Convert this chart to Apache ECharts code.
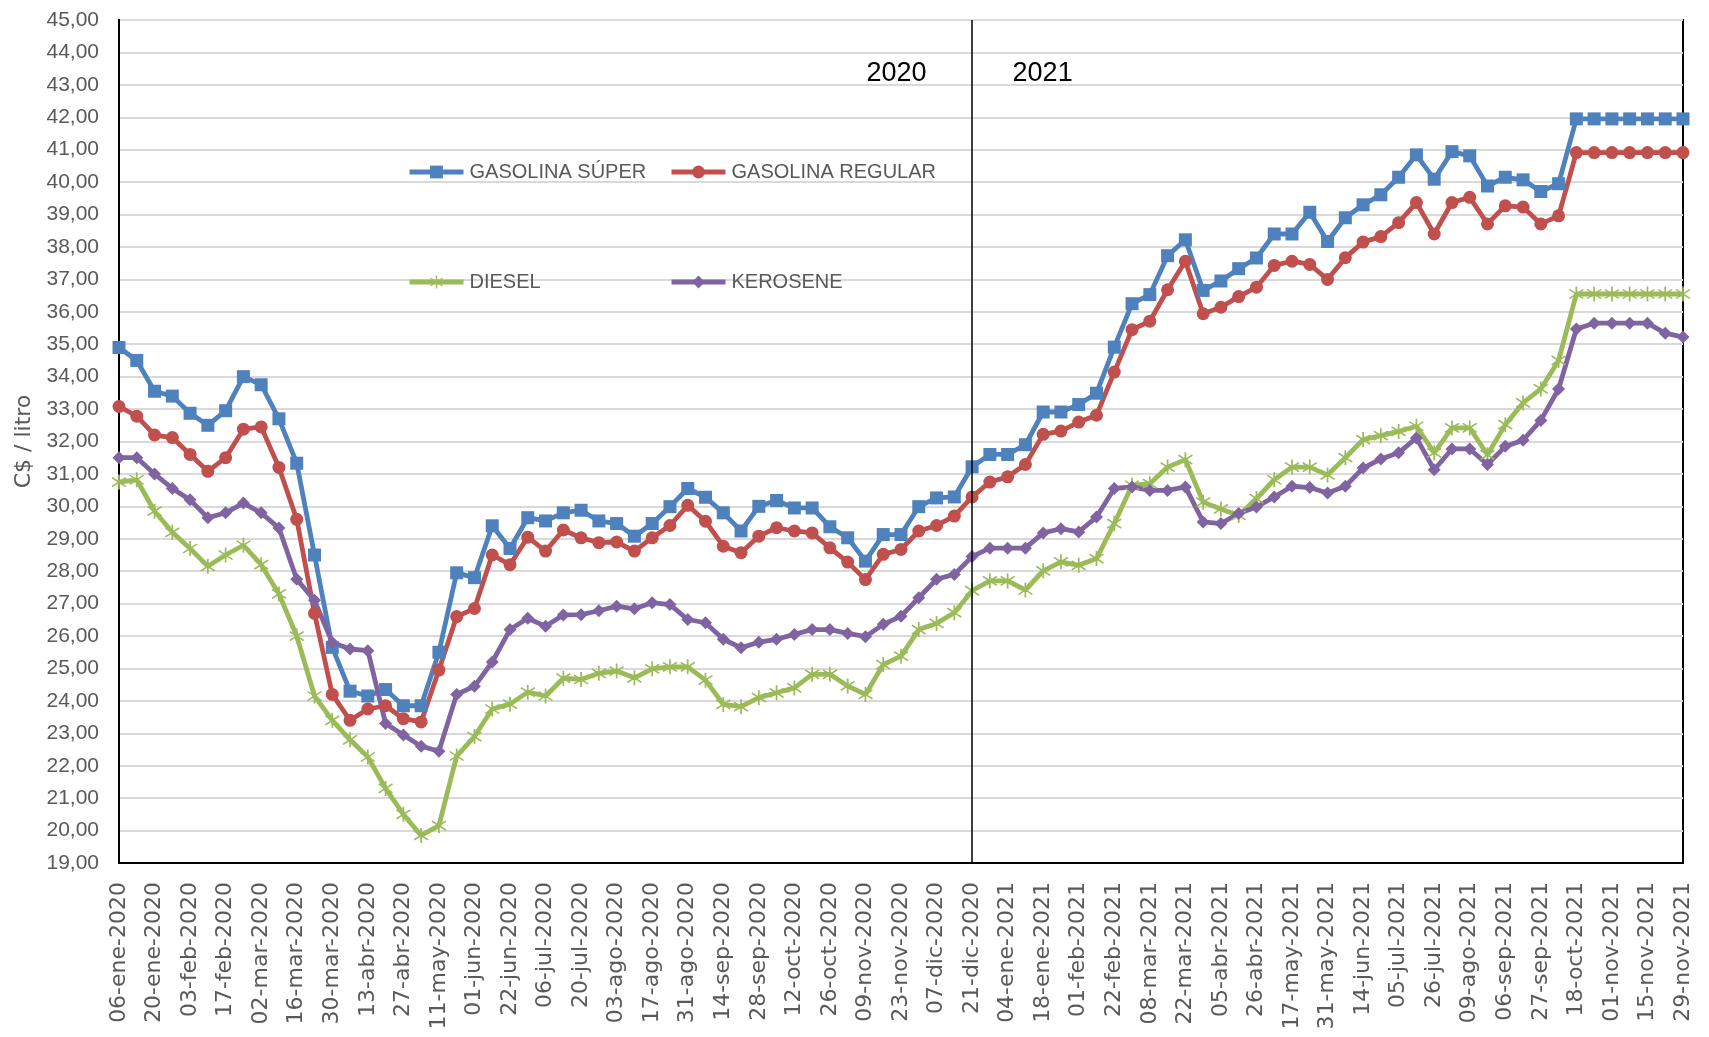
<!DOCTYPE html>
<html>
<head>
<meta charset="utf-8">
<script src="https://cdn.jsdelivr.net/npm/echarts@6/dist/echarts.min.js"></script>
<style>
html,body{margin:0;padding:0;background:#fff;}
#chart{width:1709px;height:1037px;}
</style>
</head>
<body>
<div id="chart"></div>
<script>
const categories = [
'06-ene-2020','13-ene-2020','20-ene-2020','27-ene-2020','03-feb-2020','10-feb-2020','17-feb-2020','24-feb-2020',
'02-mar-2020','09-mar-2020','16-mar-2020','23-mar-2020','30-mar-2020','06-abr-2020','13-abr-2020','20-abr-2020',
'27-abr-2020','04-may-2020','11-may-2020','18-may-2020','01-jun-2020','08-jun-2020','22-jun-2020','29-jun-2020',
'06-jul-2020','13-jul-2020','20-jul-2020','27-jul-2020','03-ago-2020','10-ago-2020','17-ago-2020','24-ago-2020',
'31-ago-2020','07-sep-2020','14-sep-2020','21-sep-2020','28-sep-2020','05-oct-2020','12-oct-2020','19-oct-2020',
'26-oct-2020','02-nov-2020','09-nov-2020','16-nov-2020','23-nov-2020','30-nov-2020','07-dic-2020','14-dic-2020',
'21-dic-2020','28-dic-2020','04-ene-2021','11-ene-2021','18-ene-2021','25-ene-2021','01-feb-2021','08-feb-2021',
'22-feb-2021','01-mar-2021','08-mar-2021','15-mar-2021','22-mar-2021','29-mar-2021','05-abr-2021','12-abr-2021',
'26-abr-2021','03-may-2021','17-may-2021','24-may-2021','31-may-2021','07-jun-2021','14-jun-2021','21-jun-2021',
'05-jul-2021','12-jul-2021','26-jul-2021','02-ago-2021','09-ago-2021','23-ago-2021','06-sep-2021','13-sep-2021',
'27-sep-2021','04-oct-2021','18-oct-2021','25-oct-2021','01-nov-2021','08-nov-2021','15-nov-2021','22-nov-2021',
'29-nov-2021'
];

const gasolinaSuper = [
34.90,34.50,33.55,33.40,32.87,32.50,32.95,34.00,33.75,32.70,31.33,28.50,25.65,24.30,24.15,24.35,
23.85,23.85,25.50,27.95,27.80,29.40,28.70,29.65,29.55,29.80,29.88,29.55,29.47,29.08,29.47,29.99,
30.55,30.28,29.80,29.24,30.00,30.18,29.95,29.95,29.37,29.03,28.31,29.13,29.13,29.99,30.26,30.29,
31.22,31.60,31.60,31.90,32.91,32.91,33.14,33.49,34.91,36.25,36.53,37.73,38.22,36.66,36.95,37.33,
37.66,38.40,38.40,39.07,38.17,38.90,39.30,39.61,40.15,40.84,40.09,40.94,40.81,39.88,40.15,40.07,
39.71,39.95,41.95,41.95,41.95,41.95,41.95,41.95,41.95
];

const gasolinaRegular = [
33.08,32.78,32.20,32.12,31.60,31.08,31.50,32.38,32.45,31.20,29.60,26.70,24.20,23.40,23.75,23.85,
23.45,23.35,24.95,26.60,26.85,28.50,28.20,29.05,28.62,29.27,29.03,28.88,28.90,28.62,29.03,29.41,
30.03,29.54,28.77,28.57,29.08,29.34,29.24,29.18,28.72,28.28,27.74,28.52,28.67,29.24,29.41,29.70,
30.29,30.75,30.91,31.29,32.22,32.32,32.60,32.81,34.14,35.45,35.71,36.68,37.56,35.94,36.14,36.47,
36.76,37.43,37.56,37.46,37.00,37.67,38.15,38.32,38.75,39.37,38.40,39.37,39.53,38.71,39.27,39.23,
38.71,38.96,40.91,40.91,40.91,40.91,40.91,40.91,40.91
];

const diesel = [
30.75,30.82,29.85,29.20,28.70,28.15,28.50,28.80,28.20,27.30,26.00,24.15,23.40,22.80,22.27,21.30,
20.50,19.85,20.15,22.30,22.90,23.75,23.90,24.27,24.15,24.70,24.66,24.85,24.92,24.71,24.99,25.05,
25.05,24.64,23.89,23.82,24.10,24.25,24.40,24.82,24.82,24.46,24.20,25.12,25.38,26.20,26.39,26.72,
27.40,27.70,27.70,27.42,28.01,28.29,28.18,28.39,29.47,30.65,30.70,31.21,31.44,30.13,29.92,29.72,
30.24,30.82,31.21,31.21,30.97,31.50,32.06,32.18,32.31,32.47,31.65,32.42,32.42,31.59,32.52,33.19,
33.62,34.50,36.55,36.55,36.55,36.55,36.55,36.55,36.55
];

const kerosene = [
31.50,31.50,31.00,30.55,30.20,29.65,29.80,30.10,29.80,29.33,27.75,27.10,25.80,25.60,25.55,23.30,
22.95,22.60,22.45,24.20,24.45,25.20,26.20,26.55,26.30,26.65,26.66,26.78,26.92,26.84,27.03,26.97,
26.51,26.41,25.90,25.64,25.81,25.90,26.05,26.20,26.20,26.08,25.98,26.36,26.61,27.18,27.75,27.90,
28.45,28.71,28.71,28.71,29.18,29.31,29.21,29.67,30.55,30.60,30.49,30.49,30.60,29.52,29.47,29.78,
29.98,30.29,30.62,30.58,30.41,30.62,31.18,31.46,31.65,32.11,31.13,31.77,31.77,31.29,31.85,32.04,
32.65,33.62,35.47,35.65,35.65,35.65,35.65,35.34,35.22
];

const seriesNames = ['GASOLINA SÚPER','GASOLINA REGULAR','DIESEL','KEROSENE'];
const seriesColors = ['#4F81BD','#C0504D','#9BBB59','#8064A2'];
const yearSplitCategory = '21-dic-2020';
const yearLabels = ['2020','2021'];
const yearLabelValue = 43.35;
const yMin = 19, yMax = 45, yStep = 1;

const asterisk = 'path://M9,0L11,0L11,20L9,20Z M2.6,3.2L18.6,15.2L17.4,16.8L1.4,4.8Z M17.4,3.2L18.6,4.8L2.6,16.8L1.4,15.2Z';
const sansFont = "'Liberation Sans',Arial,sans-serif";
const wideFont = "'DejaVu Sans',Verdana,sans-serif";

const chart = echarts.init(document.getElementById('chart'), null, {renderer:'canvas'});

function mkSeries(name, data, color, symbol, size) {
  return {
    name: name, type: 'line', data: data,
    symbol: symbol, symbolSize: size, showSymbol: true, showAllSymbol: true,
    lineStyle: {color: color, width: 4.8},
    itemStyle: {color: color},
    emphasis: {disabled: true},
    z: 3
  };
}

const series = [
  mkSeries(seriesNames[0], gasolinaSuper, seriesColors[0], 'rect', 13),
  mkSeries(seriesNames[1], gasolinaRegular, seriesColors[1], 'circle', 13),
  mkSeries(seriesNames[2], diesel, seriesColors[2], asterisk, 15),
  mkSeries(seriesNames[3], kerosene, seriesColors[3], 'diamond', 13)
];
series[0].markLine = {
  silent: true, symbol: ['none','none'], animation: false,
  lineStyle: {color: '#000', width: 1.5, type: 'solid'},
  label: {show: false},
  data: [{xAxis: yearSplitCategory}]
};
series[0].markPoint = {
  silent: true, symbol: 'rect', symbolSize: 1, itemStyle: {color: 'rgba(0,0,0,0)'},
  data: [
    {coord: [yearSplitCategory, yearLabelValue], label: {show: true, formatter: yearLabels[0], position: 'left', distance: 45, color: '#000', fontSize: 27, fontFamily: sansFont}},
    {coord: [yearSplitCategory, yearLabelValue], label: {show: true, formatter: yearLabels[1], position: 'right', distance: 40, color: '#000', fontSize: 27, fontFamily: sansFont}}
  ]
};

const legendPos = [[407,161],[669,161],[407,271],[669,271]];
const legends = seriesNames.map((n, i) => ({
  data: [n], left: legendPos[i][0], top: legendPos[i][1], padding: 0,
  itemWidth: 54, itemHeight: 16, itemGap: 0,
  lineStyle: {width: 5},
  textStyle: {color: '#595959', fontSize: 20, fontFamily: sansFont, lineHeight: 22, padding: [0,0,0,1]},
  selectedMode: false
}));

chart.setOption({
  animation: false,
  backgroundColor: '#fff',
  grid: {left: 119, right: 26, top: 20, bottom: 174, show: true, borderColor: '#000', borderWidth: 2, containLabel: false},
  legend: legends,
  xAxis: {
    type: 'category', data: categories, boundaryGap: false,
    axisLine: {lineStyle: {color: '#000', width: 2}},
    axisTick: {show: false},
    axisLabel: {interval: 1, rotate: 90, margin: 19, color: '#595959', fontSize: 22, fontFamily: wideFont},
    splitLine: {show: false}
  },
  yAxis: {
    type: 'value', min: yMin, max: yMax, interval: yStep,
    name: 'C$ / litro', nameLocation: 'middle', nameGap: 80, nameRotate: 90,
    nameTextStyle: {color: '#595959', fontSize: 22, fontFamily: wideFont},
    axisLine: {show: true, lineStyle: {color: '#000', width: 2}},
    axisTick: {show: false},
    axisLabel: {margin: 20, color: '#595959', fontSize: 21, fontFamily: sansFont,
      formatter: v => v.toFixed(2).replace('.', ',')},
    splitLine: {show: true, lineStyle: {color: '#d9d9d9', width: 2}}
  },
  series: series
});
</script>
</body>
</html>
